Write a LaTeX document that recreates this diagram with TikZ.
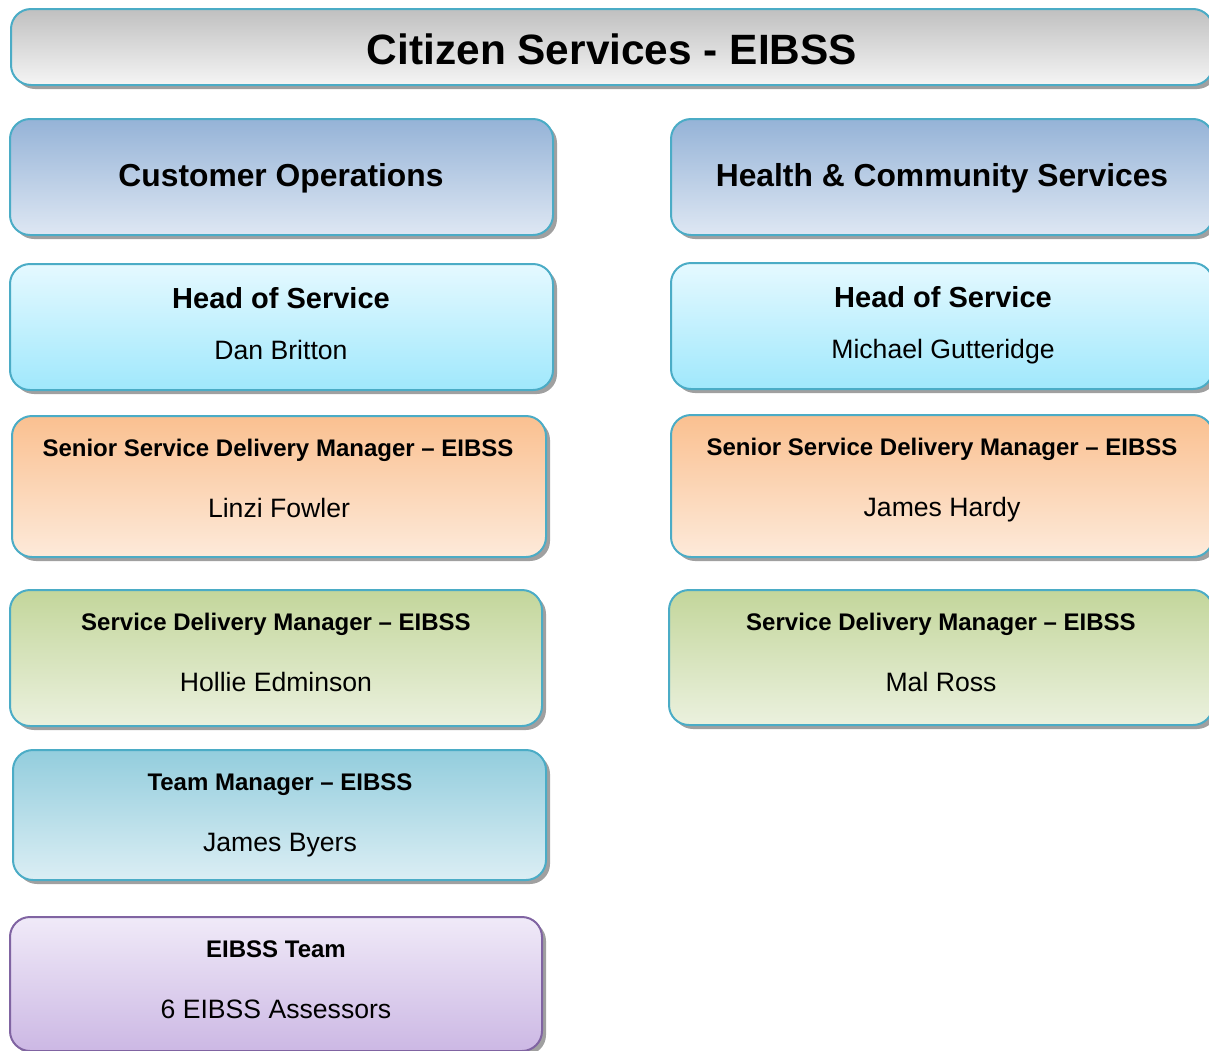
\documentclass[tikz,border=0pt]{standalone}
\usepackage{fontspec}
\setmainfont{Liberation Sans}
\usetikzlibrary{shadows}
\definecolor{bordc}{HTML}{4BACC6}
\definecolor{bordp}{HTML}{8064A2}
\definecolor{shad}{HTML}{A0A0A0}
\definecolor{tiT}{HTML}{C0C0C0}\definecolor{tiB}{HTML}{F5F5F5}
\definecolor{dpT}{HTML}{95B3D7}\definecolor{dpB}{HTML}{DEE7F3}
\definecolor{hdT}{HTML}{E5F9FF}\definecolor{hdB}{HTML}{A0E8FC}
\definecolor{srT}{HTML}{FAC090}\definecolor{srB}{HTML}{FDEADA}
\definecolor{sdT}{HTML}{C3D69B}\definecolor{sdB}{HTML}{EBF1DE}
\definecolor{tmT}{HTML}{93CDDD}\definecolor{tmB}{HTML}{DBEEF4}
\definecolor{ebT}{HTML}{F0EAF8}\definecolor{ebB}{HTML}{CCB8E4}
\tikzset{
  orgbox/.style={draw=bordc, line width=2pt, rounded corners=20pt, anchor=north west,
    inner sep=0pt, outer sep=0pt,
    drop shadow={shadow xshift=4pt, shadow yshift=-4pt, fill=shad, opacity=1}},
  txtbase/.style={inner sep=0pt, text depth=0pt},
  titletxt/.style={txtbase, text height=30.5pt, font=\bfseries\fontsize{42.4}{48}\selectfont},
  depttxt/.style={txtbase, text height=22.9pt, font=\bfseries\fontsize{31.8}{36}\selectfont},
  headtxt/.style={txtbase, text height=20.9pt, font=\bfseries\fontsize{29}{34}\selectfont},
  roletxt/.style={txtbase, text height=17.3pt, font=\bfseries\fontsize{24}{28}\selectfont},
  nametxt/.style={txtbase, text height=19.2pt, font=\fontsize{26.6}{30}\selectfont},
}
\begin{document}
\begin{tikzpicture}[x=1pt,y=-1pt]
\useasboundingbox (0,0) rectangle (1209,1050);
% title
\node[orgbox, top color=tiT, bottom color=tiB, minimum width=1202pt, minimum height=76pt] (title) at (11,9) {};
\node[titletxt] (titlet) at (612,49) {Citizen Services - EIBSS};
% left column
\node[orgbox, top color=dpT, bottom color=dpB, minimum width=543pt, minimum height=116pt] (dl) at (10,119) {};
\node[depttxt] (dlt) at (281,175) {Customer Operations};
\node[orgbox, top color=hdT, bottom color=hdB, minimum width=543pt, minimum height=126pt] (hl) at (10,264) {};
\node[headtxt] (hlt) at (281,298) {Head of Service};
\node[nametxt] (hln) at (281,350) {Dan Britton};
\node[orgbox, top color=srT, bottom color=srB, minimum width=534pt, minimum height=141pt] (sl) at (12,416) {};
\node[roletxt] (slt) at (278,448) {Senior Service Delivery Manager – EIBSS};
\node[nametxt] (sln) at (279,508) {Linzi Fowler};
\node[orgbox, top color=sdT, bottom color=sdB, minimum width=532pt, minimum height=136pt] (ml) at (10,590) {};
\node[roletxt] (mlt) at (276,622) {Service Delivery Manager – EIBSS};
\node[nametxt] (mln) at (276,682) {Hollie Edminson};
\node[orgbox, top color=tmT, bottom color=tmB, minimum width=533pt, minimum height=130pt] (tl) at (13,750) {};
\node[roletxt] (tlt) at (280,782) {Team Manager – EIBSS};
\node[nametxt] (tln) at (280,842) {James Byers};
\node[orgbox, draw=bordp, top color=ebT, bottom color=ebB, minimum width=532pt, minimum height=134pt] (el) at (10,917) {};
\node[roletxt] (elt) at (276,949) {EIBSS Team};
\node[nametxt] (eln) at (276,1009) {6 EIBSS Assessors};
% right column
\node[orgbox, top color=dpT, bottom color=dpB, minimum width=542pt, minimum height=116pt] (dr) at (671,119) {};
\node[depttxt] (drt) at (942,175) {Health \& Community Services};
\node[orgbox, top color=hdT, bottom color=hdB, minimum width=542pt, minimum height=126pt] (hr) at (671,263) {};
\node[headtxt] (hrt) at (943,297) {Head of Service};
\node[nametxt] (hrn) at (943,349) {Michael Gutteridge};
\node[orgbox, top color=srT, bottom color=srB, minimum width=542pt, minimum height=142pt] (sr) at (671,415) {};
\node[roletxt] (srt) at (942,447) {Senior Service Delivery Manager – EIBSS};
\node[nametxt] (srn) at (942,507) {James Hardy};
\node[orgbox, top color=sdT, bottom color=sdB, minimum width=544pt, minimum height=135pt] (mr) at (669,590) {};
\node[roletxt] (mrt) at (941,622) {Service Delivery Manager – EIBSS};
\node[nametxt] (mrn) at (941,682) {Mal Ross};
\end{tikzpicture}
\end{document}
